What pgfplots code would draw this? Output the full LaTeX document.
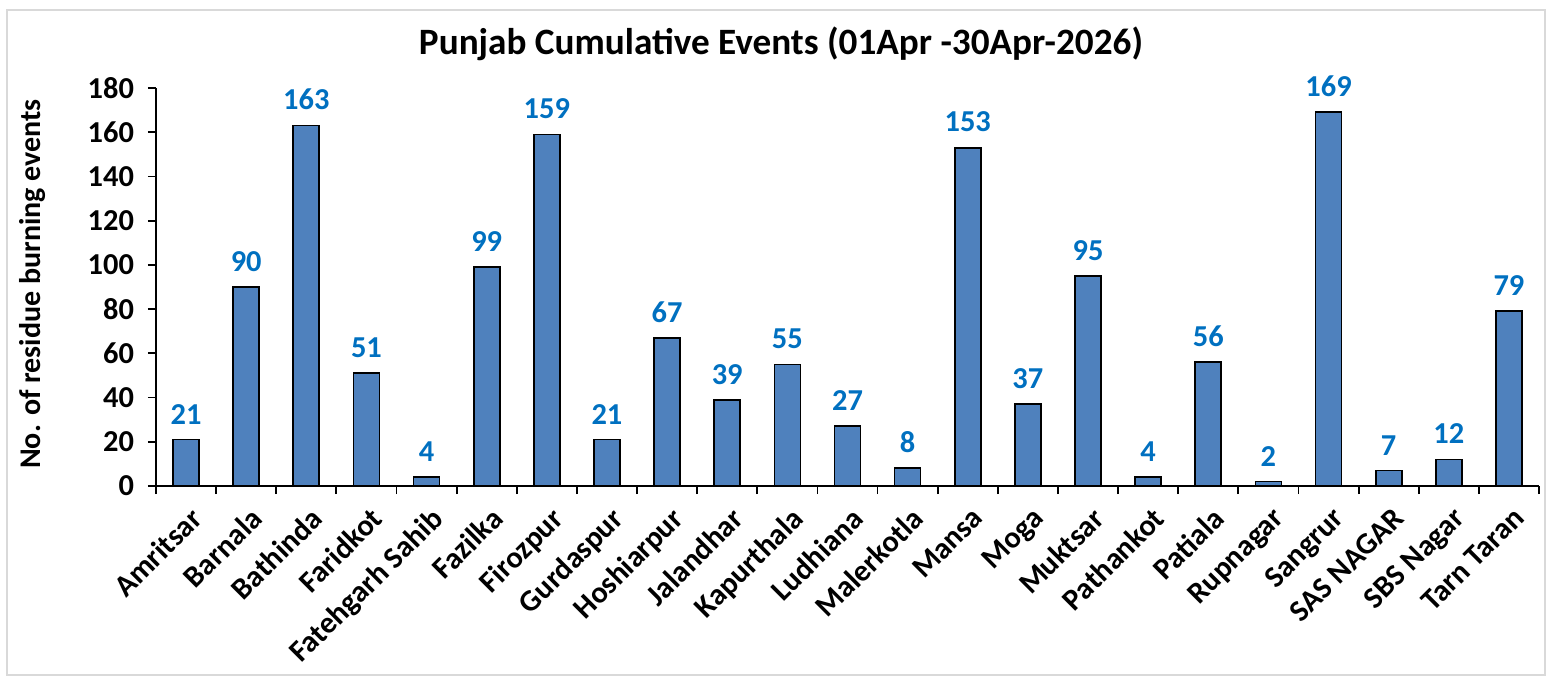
\documentclass[border=0pt]{standalone}
\usepackage{pgfplots}
\pgfplotsset{compat=1.18}
\usepackage{fontspec}
\setmainfont{Carlito}
\definecolor{barblue}{HTML}{4F81BD}
\definecolor{lblblue}{HTML}{0070C0}
\definecolor{framegray}{HTML}{D9D9D9}
\begin{document}
\begin{tikzpicture}
\path (-78pt,-97.5pt) rectangle (698pt,243pt);
\draw[framegray, line width=0.6pt] (-74.5pt,-94.5pt) rectangle (694.5pt,238pt);
\begin{axis}[
  at={(0pt,0pt)}, anchor=south west,
  scale only axis,
  width=691.5pt, height=199pt,
  ymin=0, ymax=180,
  xmin=-0.5, xmax=22.5,
  ytick distance=20,
  xtick={0,...,22},
  xticklabels={Amritsar,Barnala,Bathinda,Faridkot,Fatehgarh Sahib,Fazilka,Firozpur,Gurdaspur,Hoshiarpur,Jalandhar,Kapurthala,Ludhiana,Malerkotla,Mansa,Moga,Muktsar,Pathankot,Patiala,Rupnagar,Sangrur,SAS NAGAR,SBS Nagar,Tarn Taran},
  minor xtick={-0.5,0.5,...,22.5},
  major x tick style={draw=none},
  minor tick length=4pt,
  major tick length=4pt,
  tick align=outside,
  tick style={black, line width=0.9pt},
  axis x line*=bottom,
  axis y line*=left,
  axis line style={black, line width=0.9pt, -},
  /pgf/number format/assume math mode=true,
  ticklabel style={font=\fontsize{15.2}{17}\selectfont\bfseries},
  yticklabel style={xshift=-3.5pt},
  xticklabel style={rotate=45, anchor=north east, inner sep=1pt, yshift=-4pt, xshift=-2pt},
  ybar, bar width=13pt,
  nodes near coords,
  every node near coord/.append style={font=\fontsize{15.2}{17}\selectfont\bfseries, text=lblblue, yshift=4pt},
  clip=false,
]
\addplot[fill=barblue, draw=black, line width=0.85pt] coordinates {
(0,21) (1,90) (2,163) (3,51) (4,4) (5,99) (6,159) (7,21) (8,67) (9,39) (10,55) (11,27)
(12,8) (13,153) (14,37) (15,95) (16,4) (17,56) (18,2) (19,169) (20,7) (21,12) (22,79)};
\end{axis}
\node[font=\fontsize{18.6}{21}\selectfont\bfseries] at (312.5pt,221pt) {Punjab Cumulative Events (01Apr -30Apr-2026)};
\node[rotate=90, font=\fontsize{15}{17}\selectfont\bfseries] at (-61.5pt,101pt) {No. of residue burning events};
\end{tikzpicture}
\end{document}
